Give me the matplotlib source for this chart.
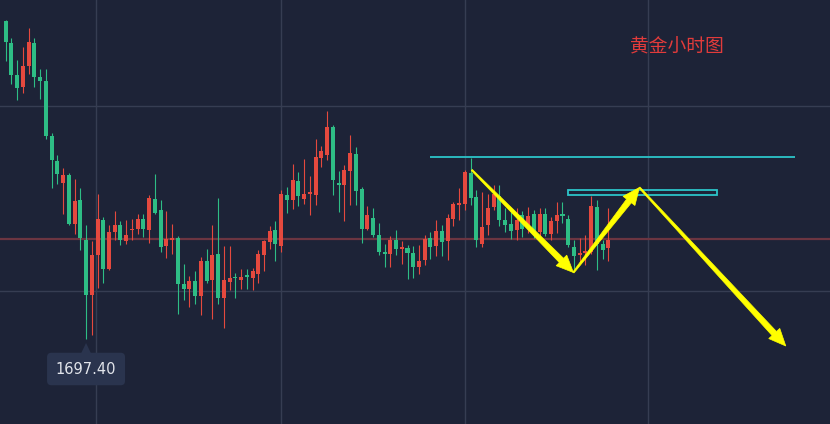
import numpy as np
import matplotlib
matplotlib.use('Agg')
import matplotlib.pyplot as plt
from matplotlib.patches import Polygon, Rectangle
from matplotlib.transforms import IdentityTransform

# hourly gold candles (price)
opens = [1761.0, 1756.7, 1750.2, 1747.9, 1752.0, 1756.7, 1749.8, 1749.1, 1738.0, 1732.9,
         1728.7, 1730.2, 1720.4, 1725.2, 1717.2, 1706.3, 1714.3, 1721.3, 1711.5, 1718.9,
         1720.2, 1717.1, 1719.2, 1719.5, 1721.5, 1719.2, 1725.4, 1723.2, 1716.1, 1717.3,
         1717.7, 1708.4, 1707.5, 1709.1, 1706.1, 1713.0, 1709.3, 1714.4, 1705.7, 1708.9,
         1709.8, 1709.3, 1710.1, 1709.7, 1710.4, 1714.2, 1716.9, 1719.2, 1716.1, 1726.2,
         1725.3, 1729.1, 1725.5, 1726.5, 1726.2, 1733.7, 1734.2, 1739.7, 1728.6, 1728.2,
         1731.1, 1734.4, 1727.4, 1719.4, 1721.7, 1718.2, 1714.7, 1714.4, 1717.3, 1715.5,
         1715.7, 1714.7, 1711.9, 1713.2, 1717.7, 1716.1, 1719.0, 1717.1, 1721.5, 1724.3,
         1724.5, 1730.7, 1725.7, 1716.4, 1720.2, 1723.9, 1725.9, 1721.3, 1720.4, 1719.2,
         1722.3, 1719.9, 1722.5, 1718.9, 1722.4, 1718.5, 1721.0, 1722.4, 1721.5, 1715.7,
         1714.3, 1714.7, 1714.9, 1723.7, 1716.5, 1715.7]
closes = [1756.8, 1750.3, 1747.7, 1752.0, 1756.7, 1749.9, 1749.1, 1738.1, 1733.2, 1730.5,
          1730.2, 1720.5, 1725.0, 1717.7, 1706.3, 1714.2, 1721.4, 1711.4, 1718.7, 1720.2,
          1717.2, 1718.2, 1719.5, 1721.5, 1719.5, 1725.7, 1722.7, 1715.9, 1717.5, 1717.7,
          1708.4, 1707.5, 1709.1, 1706.0, 1713.0, 1709.0, 1714.2, 1705.7, 1709.2, 1709.7,
          1709.6, 1709.9, 1709.9, 1711.0, 1714.4, 1717.0, 1719.0, 1716.4, 1726.4, 1725.3,
          1729.3, 1726.0, 1726.4, 1726.7, 1733.7, 1734.9, 1739.7, 1729.2, 1728.2, 1731.2,
          1734.7, 1727.0, 1719.5, 1722.3, 1718.2, 1714.9, 1714.5, 1717.3, 1715.4, 1715.7,
          1714.7, 1711.9, 1713.0, 1717.5, 1715.9, 1719.0, 1716.9, 1721.7, 1724.5, 1724.5,
          1730.7, 1725.7, 1717.2, 1719.9, 1723.7, 1726.5, 1721.2, 1720.2, 1719.1, 1721.3,
          1719.5, 1722.0, 1718.5, 1722.4, 1718.5, 1721.0, 1722.3, 1722.0, 1716.2, 1714.0,
          1714.5, 1714.9, 1724.0, 1716.5, 1715.3, 1717.3]
highs = [1761.2, 1757.7, 1753.2, 1755.8, 1759.7, 1757.6, 1751.4, 1751.5, 1738.7, 1734.3,
         1731.7, 1730.7, 1729.5, 1727.7, 1720.2, 1717.0, 1726.4, 1721.9, 1720.2, 1723.1,
         1721.0, 1721.2, 1721.5, 1722.4, 1722.5, 1726.2, 1730.5, 1725.2, 1723.1, 1720.4,
         1718.0, 1712.4, 1710.1, 1711.0, 1713.9, 1715.4, 1720.2, 1725.7, 1716.1, 1716.1,
         1710.7, 1711.5, 1711.5, 1711.7, 1715.3, 1717.3, 1720.0, 1721.0, 1727.2, 1727.9,
         1732.5, 1730.9, 1733.4, 1730.0, 1737.5, 1736.1, 1743.1, 1740.2, 1731.0, 1732.2,
         1738.2, 1735.9, 1727.9, 1724.0, 1723.7, 1720.7, 1716.4, 1718.0, 1719.2, 1717.1,
         1716.2, 1716.0, 1716.3, 1718.3, 1718.9, 1721.2, 1720.2, 1722.4, 1724.9, 1727.7,
         1731.3, 1733.7, 1727.3, 1726.9, 1726.4, 1728.2, 1728.2, 1723.7, 1722.9, 1723.7,
         1723.0, 1723.9, 1723.2, 1723.7, 1723.7, 1721.9, 1724.9, 1724.9, 1722.2, 1717.2,
         1717.7, 1718.2, 1726.0, 1725.2, 1717.2, 1723.7]
lows = [1753.0, 1748.5, 1745.2, 1746.7, 1750.5, 1747.9, 1745.5, 1737.5, 1727.7, 1728.5,
        1722.4, 1720.3, 1718.5, 1715.2, 1697.4, 1698.3, 1707.7, 1708.7, 1711.3, 1717.2,
        1716.3, 1716.5, 1717.3, 1718.5, 1717.9, 1716.7, 1722.5, 1714.9, 1713.7, 1714.5,
        1702.4, 1705.3, 1703.9, 1704.4, 1702.2, 1708.7, 1701.5, 1704.5, 1699.7, 1707.2,
        1705.7, 1707.4, 1707.5, 1707.2, 1708.7, 1711.1, 1715.5, 1713.0, 1714.9, 1722.7,
        1723.5, 1724.0, 1724.5, 1722.2, 1724.3, 1731.9, 1733.3, 1726.2, 1722.9, 1721.1,
        1724.3, 1724.3, 1716.7, 1719.2, 1717.9, 1714.2, 1711.9, 1711.9, 1714.2, 1712.5,
        1709.5, 1709.7, 1710.4, 1712.2, 1713.5, 1714.0, 1714.0, 1713.2, 1720.0, 1721.2,
        1723.3, 1724.3, 1715.9, 1715.9, 1718.2, 1723.3, 1720.0, 1718.9, 1717.5, 1717.3,
        1717.9, 1718.7, 1717.7, 1717.7, 1718.0, 1717.2, 1718.7, 1720.7, 1715.9, 1711.5,
        1712.9, 1712.2, 1714.5, 1711.2, 1713.5, 1713.1]

current_price = 1717.5
low_label = '1697.40'
low_index = 14
resistance = (73.9, 137.5, 1733.9)          # x from, x to, price
zone = (98.0, 124.0, 1726.3, 1727.3)       # x from, x to, price low, price high
# drawn path: top -> dip -> retest -> target
path_x = [81.2, 98.9, 110.4, 135.9]
path_y = [1731.2, 1710.7, 1727.7, 1696.0]
grid_x = [15.8, 47.9, 80.0, 111.9]
grid_y = [1707.1, 1744.0]

bg = '#1d2337'
green = '#2ebd85'
red = '#e5493e'
cyan = '#2cc4c9'
yellow = '#ffff00'

plt.rcParams['font.family'] = ['Noto Sans CJK SC', 'DejaVu Sans']

fig = plt.figure(figsize=(8.3, 4.24), dpi=100, facecolor=bg)
ax = fig.add_axes([0, 0, 1, 1], facecolor=bg)
ax.set_xlim(-0.99, 143.6)
ax.set_ylim(1680.4, 1765.2)
for s in ax.spines.values():
    s.set_visible(False)
ax.set_xticks(grid_x)
ax.set_yticks(grid_y)
ax.tick_params(length=0, labelbottom=False, labelleft=False)
ax.grid(color='#363d52', lw=1)
ax.set_axisbelow(True)

# candles (red = up, green = down)
o = np.array(opens)
c = np.array(closes)
x = np.arange(len(o))
cols = np.where(c >= o, red, green)
ax.axhline(current_price, color='#6c3541', lw=1.6, zorder=2)
ax.vlines(x, lows, highs, colors=cols, lw=0.8, zorder=3)
ax.bar(x, np.maximum(np.abs(c - o), 0.3), 0.7, bottom=np.minimum(o, c),
       color=cols, linewidth=0, zorder=4)

# resistance line and zone
ax.hlines(resistance[2], resistance[0], resistance[1], color=cyan, lw=1.3, zorder=5)
ax.add_patch(Rectangle((zone[0], zone[2]), zone[1] - zone[0], zone[3] - zone[2],
                       fill=False, ec=cyan, lw=1.3, zorder=5))


def taper_arrow(p0, p1, w0, w1, head_len, head_w):
    # tapered arrow built in pixel space
    (x0, y0), (x1, y1) = ax.transData.transform([p0, p1])
    L = np.hypot(x1 - x0, y1 - y0)
    ux, uy = (x1 - x0) / L, (y1 - y0) / L
    nx, ny = -uy, ux
    bx, by = x1 - ux * head_len, y1 - uy * head_len
    pts = [(x0 + nx * w0 / 2, y0 + ny * w0 / 2),
           (bx + nx * w1 / 2, by + ny * w1 / 2),
           (bx + nx * head_w / 2, by + ny * head_w / 2),
           (x1, y1),
           (bx - nx * head_w / 2, by - ny * head_w / 2),
           (bx - nx * w1 / 2, by - ny * w1 / 2),
           (x0 - nx * w0 / 2, y0 - ny * w0 / 2)]
    ax.add_patch(Polygon(pts, closed=True, transform=IdentityTransform(),
                         fc=yellow, ec=yellow, lw=0.5, zorder=6))


for i in range(len(path_x) - 1):
    taper_arrow((path_x[i], path_y[i]), (path_x[i + 1], path_y[i + 1]),
                1.5, 6, 17, 15)

# low price label with pointer
ax.text(low_index, 1691.4, low_label, ha='center', va='center', color='#e1e4ea',
        fontsize=10.5, family='DejaVu Sans', zorder=7,
        bbox=dict(boxstyle='round,pad=0.6,rounding_size=0.3', fc='#2a344e', ec='none'))
ax.add_patch(Polygon([(low_index - 1.0, 1694.2), (low_index + 1.0, 1694.2),
                      (low_index, 1696.6)], closed=True, fc='#2a344e', ec='none', zorder=7))

fig.text(0.815, 0.89, '黄金小时图', color='#e23b3b', fontsize=13.5,
         ha='center', va='center')

fig.savefig('out.png', dpi=100, facecolor=bg)
